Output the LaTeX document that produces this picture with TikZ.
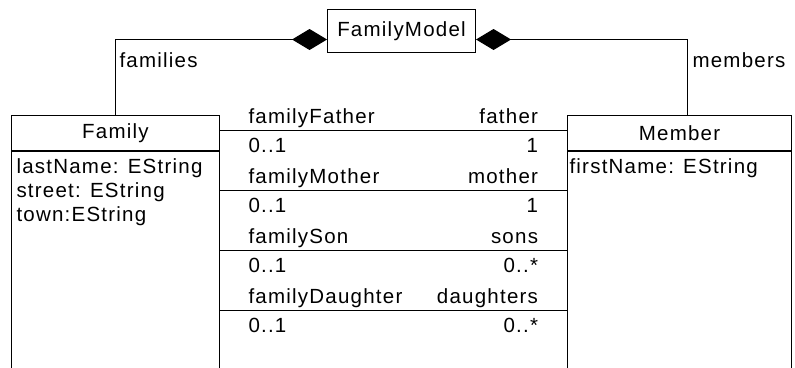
\documentclass[tikz,border=0pt]{standalone}
\usepackage{fontspec}
\setmainfont{Liberation Sans}[LetterSpace=6]
\usetikzlibrary{arrows.meta}

\begin{document}
\begin{tikzpicture}[x=1pt,y=-1pt,line width=1pt,
    every node/.style={font=\fontsize{20.5}{24}\selectfont, inner sep=0pt},
    classbox/.style={draw, rectangle, anchor=north west},
    compo/.style={-{Diamond[length=35pt,width=21pt]}}]

    \useasboundingbox (0,0) rectangle (795,367);
    \clip (0,0) rectangle (795,367);

    % these are the classes
    \node[classbox, minimum width=148pt, minimum height=43pt] (model) at (327,9) {FamilyModel};
    \node[classbox, minimum width=208pt, minimum height=35pt] (family) at (11,115) {Family};
    \node[classbox, minimum width=208pt, minimum height=230pt] (familybody) at (family.south west) {};
    \node[classbox, minimum width=224pt, minimum height=35pt] (member) at (567,115) {Member};
    \node[classbox, minimum width=224pt, minimum height=230pt] (memberbody) at (member.south west) {};

    % attributes
    \foreach \a [count=\i] in {lastName: EString, street: EString, town:EString}
        \node[anchor=base west] (fattr\i) at (16,149+24*\i) {\a};
    \node[anchor=base west] (mattr1) at (569,173) {firstName: EString};

    % compositions
    \draw[compo] (family.north) |- ([yshift=-8.5pt]model.west);
    \draw[compo] ([xshift=8pt]member.north) |- ([yshift=-8.5pt]model.east);
    \node[anchor=west] (families) at (119,60) {families};
    \node[anchor=west] (members) at (692,60) {members};

    % associations
    \foreach \y/\src/\dst/\mult in {130/familyFather/father/1, 190/familyMother/mother/1,
        250/familySon/sons/0..*, 310/familyDaughter/daughters/0..*} {
        \draw (family.east |- 0,\y) -- (member.west |- 0,\y);
        \node[anchor=base west] (src\y) at (248,\y-7) {\src};
        \node[anchor=base west] (srcm\y) at (248,\y+22) {0..1};
        \node[anchor=base east] (dst\y) at (538.5,\y-7) {\dst};
        \node[anchor=base east] (dstm\y) at (538.5,\y+22) {\mult};
    }

\end{tikzpicture}
\end{document}
